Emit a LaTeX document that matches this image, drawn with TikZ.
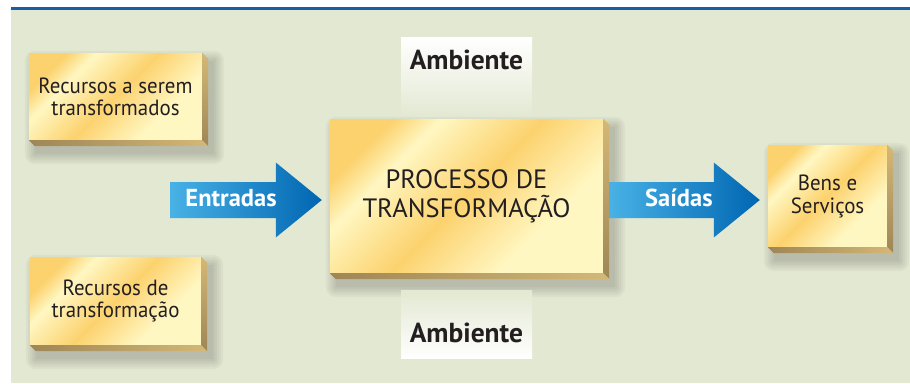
\documentclass[tikz,border=0pt]{standalone}
\usepackage{fontspec}
\setmainfont{PT Sans}
\newfontfamily\estreita[FakeStretch=0.95]{PT Sans}
\usetikzlibrary{calc,positioning}

\definecolor{fundo}{RGB}{227,232,210}
\definecolor{linhaazul}{RGB}{24,94,166}
\definecolor{ouroa}{RGB}{252,210,110}
\definecolor{ourob}{RGB}{255,247,194}
\definecolor{ladoa}{RGB}{212,184,118}
\definecolor{ladob}{RGB}{158,134,86}
\definecolor{setaa}{RGB}{72,178,230}
\definecolor{setab}{RGB}{0,102,178}
\definecolor{texto}{RGB}{35,31,32}

\pgfdeclarehorizontalshading{ouro}{100bp}{color(0bp)=(ouroa); color(25bp)=(ouroa); color(33bp)=(ourob); color(50bp)=(ouroa); color(68bp)=(ourob); color(75bp)=(ourob); color(100bp)=(ourob)}

\pgfdeclarelayer{camadafundo}
\pgfdeclarelayer{camadasombra}
\pgfsetlayers{camadafundo,camadasombra,main}

% faces laterais de um cubo
\def\lados#1{%
  \shade[top color=ladoa, bottom color=ladob] (#1.north east) -- ++(6,6) -- ($(#1.south east)+(6,6)$) -- (#1.south east) -- cycle;
  \shade[left color=ladob, right color=ladoa] (#1.south west) -- (#1.south east) -- ++(6,6) -- ($(#1.south west)+(6,6)$) -- cycle;
  \begin{pgfonlayer}{camadasombra}
    \foreach \r in {0,2,...,10}
      \fill[black, opacity=0.03, rounded corners=\r] ($(#1.north west)+(6-\r,8-\r)$) rectangle ($(#1.south east)+(12+\r,14+\r)$);
  \end{pgfonlayer}}

% seta larga
\def\seta#1#2{%
  \shade[left color=setaa, right color=setab] ($(#1)+(0,-18)$) -- ($(#2)+(-46,-18)$) -- ($(#2)+(-46,-37.5)$) -- (#2) -- ($(#2)+(-46,37.5)$) -- ($(#2)+(-46,18)$) -- ($(#1)+(0,18)$) -- cycle;}

\tikzset{
  cubo/.style={rectangle, inner sep=0pt, shade, shading=ouro, shading angle=-45, text=texto, align=center, font=\estreita\fontsize{22}{22}\selectfont},
  ambiente/.style={rectangle, inner sep=0pt, minimum width=131pt, font=\bfseries\fontsize{27.5}{27.5}\selectfont, text=texto},
  rotulo/.style={text=white, font=\bfseries\fontsize{24.5}{24.5}\selectfont, inner sep=0pt}
}

\begin{document}
\begin{tikzpicture}[x=1pt, y=-1pt]
  \useasboundingbox (0,0) rectangle (910,383);
  \begin{pgfonlayer}{camadafundo}
    \fill[white] (0,0) rectangle (910,383);
    \fill[fundo] (11,10) rectangle (910,383);
    \fill[linhaazul] (11,7) rectangle (910,10);
  \end{pgfonlayer}

  % caixas
  \node[cubo, minimum width=173pt, minimum height=87pt] (serem) at (115.5,96.5) {Recursos a serem\\transformados};
  \node[cubo, minimum width=171pt, minimum height=88pt] (recursos) at (115.5,301) {Recursos de\\transformação};
  \node[cubo, minimum width=273pt, minimum height=154pt, font=\fontsize{26.5}{29}\selectfont] (centro) at (466.5,196) {PROCESSO DE\\TRANSFORMAÇÃO};
  \node[cubo, minimum width=119pt, minimum height=102pt, font=\estreita\fontsize{22}{23}\selectfont] (bens) at (827.5,196) {Bens e\\Serviços};
  \lados{serem}
  \lados{recursos}
  \lados{centro}
  \lados{bens}

  % ambiente
  \node[ambiente, top color=white, bottom color=fundo, text height=32pt, text depth=47pt, above=2pt of centro] (amb1) {Ambiente};
  \node[ambiente, top color=fundo, bottom color=white, text height=52pt, text depth=16pt, below=17pt of centro] (amb2) {Ambiente};

  % entradas e saidas
  \coordinate (inicio) at (170,200);
  \coordinate (pontaE) at ($(inicio -| centro.west)+(-8,0)$);
  \coordinate (saida) at ($(inicio -| centro.east)+(6,0)$);
  \coordinate (pontaS) at ($(inicio -| bens.west)+(-8,0)$);
  \seta{inicio}{pontaE}
  \seta{saida}{pontaS}
  \node[rotulo, anchor=base east] (entradas) at ($(pontaE)+(-45,6)$) {Entradas};
  \node[rotulo, anchor=base east] (saidas) at ($(pontaS)+(-47,6)$) {Saídas};
\end{tikzpicture}
\end{document}
